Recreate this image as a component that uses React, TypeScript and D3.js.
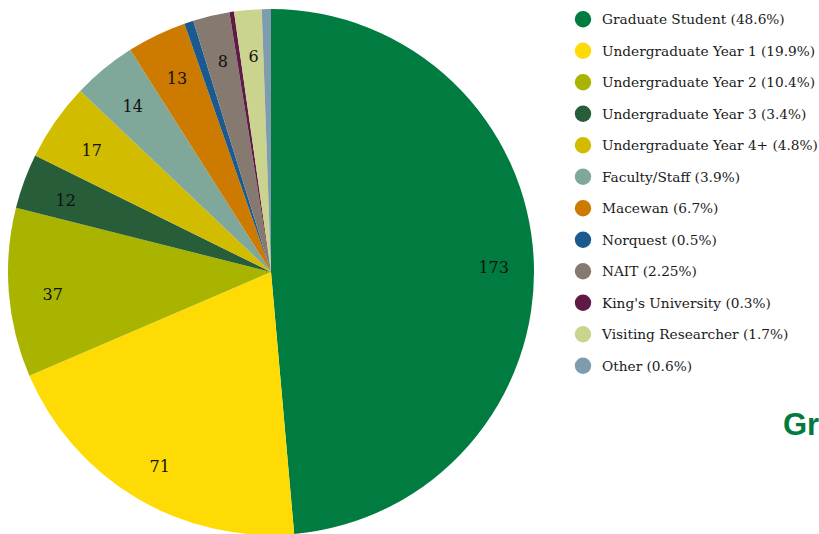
import React, { useEffect, useRef } from "react";
import * as d3 from "d3";

const categories = [
  "Graduate Student",
  "Undergraduate Year 1",
  "Undergraduate Year 2",
  "Undergraduate Year 3",
  "Undergraduate Year 4+",
  "Faculty/Staff",
  "Macewan",
  "Norquest",
  "NAIT",
  "King's University",
  "Visiting Researcher",
  "Other",
];
const values = [173, 71, 37, 12, 17, 14, 13, 2, 8, 1, 6, 2];
const legendPercents = ["48.6%", "19.9%", "10.4%", "3.4%", "4.8%", "3.9%", "6.7%", "0.5%", "2.25%", "0.3%", "1.7%", "0.6%"];
const colors = [
  "#007c41", "#ffdb05", "#a8b400", "#275d38", "#d2bc00", "#7fa89a",
  "#cc7a00", "#1a5a8f", "#857970", "#5f1a45", "#cbd48f", "#7f9caf",
];
const labelMin = 5;

export default function App() {
  const ref = useRef<SVGSVGElement>(null);
  useEffect(() => {
    const svg = d3.select(ref.current);
    svg.selectAll("*").remove();
    const cx = 271, cy = 272, r = 263;
    const data = categories.map((c, i) => ({ c, v: values[i], color: colors[i], pct: legendPercents[i] }));
    const pie = d3.pie<any>().value((d) => d.v).sort(null).startAngle(0).endAngle(2 * Math.PI);
    const arcs = pie(data);
    const arc = d3.arc<any>().innerRadius(0).outerRadius(r);
    const labelArc = d3.arc<any>().innerRadius(r * 0.68).outerRadius(r);
    const g = svg.append("g").attr("transform", `translate(${cx},${cy})`);
    g.selectAll("path").data(arcs).enter().append("path")
      .attr("d", arc as any)
      .attr("fill", (d: any) => d.data.color);
    g.selectAll("text").data(arcs.filter((d: any) => d.data.v >= labelMin)).enter().append("text")
      .attr("transform", (d: any) => {
        const [x, y] = labelArc.centroid(d);
        return `translate(${x + 2},${y + 5})`;
      })
      .attr("text-anchor", "middle")
      .attr("dominant-baseline", "central")
      .attr("font-family", "'DejaVu Serif', serif")
      .attr("font-size", 16)
      .attr("fill", "#111")
      .text((d: any) => d.data.v);

    const leg = svg.append("g");
    const items = leg.selectAll("g").data(data).enter().append("g")
      .attr("transform", (_d, i) => `translate(583,${19.3 + i * 31.5})`);
    items.append("circle").attr("r", 8.2).attr("fill", (d: any) => d.color);
    items.append("text")
      .attr("x", 19)
      .attr("dominant-baseline", "central")
      .attr("font-family", "'DejaVu Serif', serif")
      .attr("font-size", 13.7)
      .attr("fill", "#1a1a1a")
      .text((d: any) => `${d.c} (${d.pct})`);

    svg.append("text")
      .attr("x", 783)
      .attr("y", 435)
      .attr("font-family", "'Liberation Sans', Arial, sans-serif")
      .attr("font-weight", "bold")
      .attr("font-size", 31)
      .attr("fill", "#007c41")
      .text("Gr");
  }, []);
  return (
    <svg ref={ref} width={819} height={534} style={{ position: "absolute", left: 0, top: 0 }} />
  );
}
